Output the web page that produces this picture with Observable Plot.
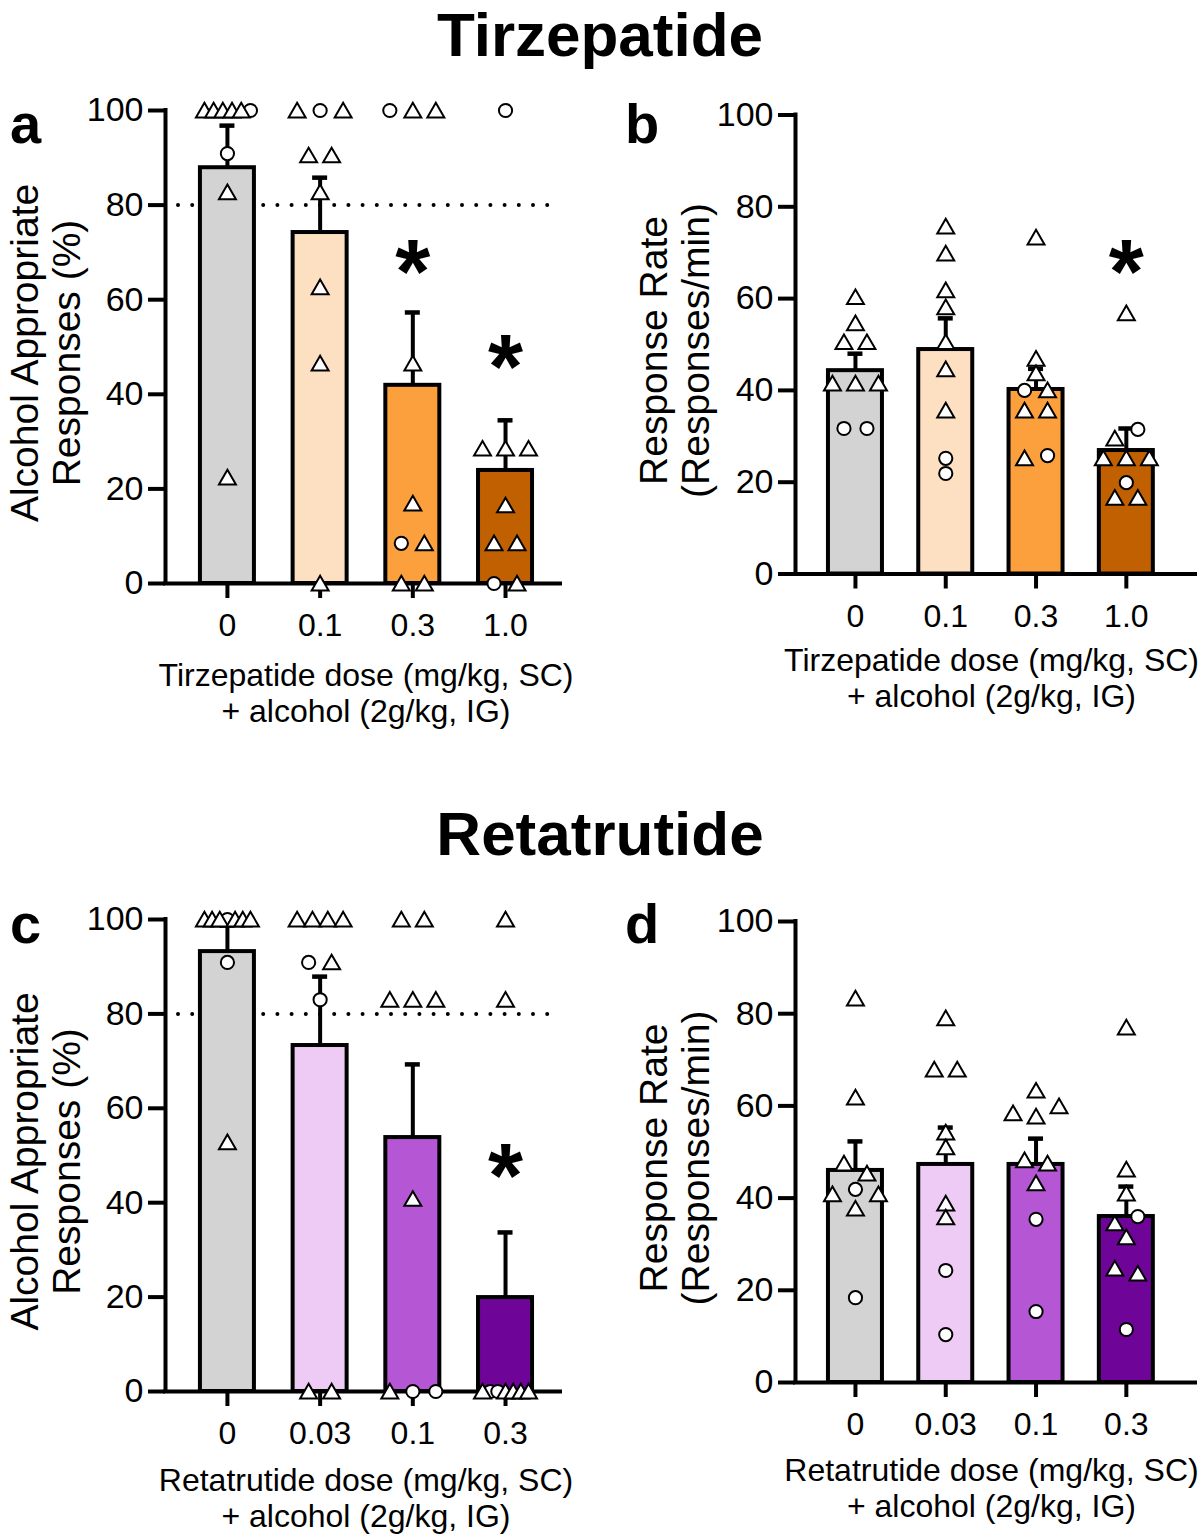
<!DOCTYPE html>
<html>
<head>
<meta charset="utf-8">
<script src="https://cdn.jsdelivr.net/npm/d3@7"></script>
<script src="https://cdn.jsdelivr.net/npm/@observablehq/plot@0.6"></script>
<style>
  body { margin: 0; background: #fff; width: 1200px; height: 1537px; position: relative; overflow: hidden;
         font-family: "Liberation Sans", Arial, sans-serif; color: #000; }
  .title { position: absolute; left: 0; width: 1200px; text-align: center; font-weight: bold; font-size: 62px; line-height: 70px; z-index: 2; }
  .letter { position: absolute; font-weight: bold; font-size: 56px; line-height: 56px; z-index: 2; }
  .panel { position: absolute; z-index: 1; }
</style>
</head>
<body>
<div class="title" style="top:0px">Tirzepatide</div>
<div class="title" style="top:799px">Retatrutide</div>
<div class="letter" style="left:10px;top:96px">a</div>
<div class="letter" style="left:625px;top:96px">b</div>
<div class="letter" style="left:10px;top:896px">c</div>
<div class="letter" style="left:625px;top:896px">d</div>
<div class="panel" id="pa" style="left:0;top:90px"></div>
<div class="panel" id="pb" style="left:600px;top:90px"></div>
<div class="panel" id="pc" style="left:0;top:890px"></div>
<div class="panel" id="pd" style="left:600px;top:890px"></div>
<script>
// Doses and bar colours
const tirzDoses = ["0", "0.1", "0.3", "1.0"];
const retaDoses = ["0", "0.03", "0.1", "0.3"];
const tirzColors = ["#d3d3d3", "#fde0c2", "#fca03e", "#c06000"];
const retaColors = ["#d3d3d3", "#eecbf5", "#b556d4", "#6e0598"];

// (a) Tirzepatide: alcohol-appropriate responses (%)
const aMean = [87.9, 74.2, 41.9, 23.9];
const aSem = [8.9, 11.6, 15.4, 10.6];
const aValues = [
  [100, 100, 100, 100, 100, 100, 90.9, 82.7, 22.4],
  [100, 100, 100, 90.5, 90.5, 82.7, 62.6, 46.5, 0],
  [100, 100, 100, 46.5, 16.9, 8.5, 8.5, 0, 0],
  [100, 28.5, 28.5, 28.5, 16.5, 8.5, 8.5, 0, 0]
];
const aShapes = ["tttttcctt", "tcttttttt", "cttttcttt", "cttttttct"];
const aStars = [null, null, 68.7, 48.6];

// (b) Tirzepatide: response rate (responses/min)
const bMean = [44.3, 48.9, 40.2, 26.9];
const bSem = [3.7, 6.8, 4.5, 4.8];
const bValues = [
  [60.3, 54.6, 50.5, 50.5, 41.5, 41.5, 41.5, 31.7, 31.7],
  [75.7, 69.8, 61.8, 58.1, 50.5, 44.6, 35.6, 25.2, 21.9],
  [73.3, 46.9, 43.7, 40.0, 40.0, 35.6, 35.6, 25.2, 25.8],
  [56.8, 29.5, 31.5, 25.2, 25.2, 25.2, 19.9, 16.6, 16.6]
];
const bShapes = ["tttttttcc", "tttttttcc", "tttcttttc", "ttctttctt"];
const bStars = [null, null, null, 68.7];

// (c) Retatrutide: alcohol-appropriate responses (%)
const cMean = [93.2, 73.3, 53.8, 19.9];
const cSem = [5.5, 14.6, 15.5, 13.8];
const cValues = [
  [100, 100, 100, 100, 100, 100, 100, 90.9, 52.8],
  [100, 100, 100, 100, 90.9, 90.9, 83.0, 0, 0],
  [100, 100, 83, 83, 83, 40.8, 0, 0, 0],
  [100, 83, 0, 0, 0, 0, 0, 0, 0]
];
const cShapes = ["tttctttct", "ttttctctt", "tttttttcc", "tttcctttt"];
const cStars = [null, null, null, 48.5];

// (d) Retatrutide: response rate (responses/min)
const dMean = [46.0, 47.3, 47.3, 36.0];
const dSem = [6.3, 8.0, 5.6, 6.5];
const dValues = [
  [83.3, 61.8, 47.5, 45.3, 40.8, 41.9, 40.8, 37.7, 18.4],
  [79.0, 67.9, 67.9, 54.2, 51.0, 38.8, 35.8, 24.3, 10.4],
  [63.3, 58.4, 57.7, 59.9, 48.2, 47.5, 43.2, 35.4, 15.4],
  [77.0, 46.2, 41.0, 34.5, 36.0, 31.5, 24.7, 23.6, 11.5]
];
const dShapes = ["tttttcttc", "tttttttcc", "tttttttcc", "ttttctttc"];
const dStars = [null, null, null, null];

const yTicks = [0, 20, 40, 60, 80, 100];
const FONT = '"Liberation Sans", Arial, sans-serif';

// Horizontal spreading of individual animals: values within ROW_GAP pixels
// share a row and are fanned out symmetrically about the bar centre.
const ROW_GAP = 12, SPACING = 23, MAX_SPAN = 46;
function spread(values, shapes, pxPerUnit) {
  const pts = values.map((v, k) => ({v, shape: shapes[k], k}));
  const sorted = pts.slice().sort((p, q) => q.v - p.v || p.k - q.k);
  const rows = [];
  for (const p of sorted) {
    const row = rows[rows.length - 1];
    if (row && (row[0].v - p.v) * pxPerUnit < ROW_GAP) row.push(p); else rows.push([p]);
  }
  for (const row of rows) {
    row.sort((p, q) => p.k - q.k);
    const n = row.length;
    const s = n > 1 ? Math.min(SPACING, MAX_SPAN / (n - 1)) : 0;
    row.forEach((p, j) => (p.off = (j - (n - 1) / 2) * s));
  }
  return pts;
}

function panel(cfg) {
  const {doses, colors, mean, sem, values, shapes, stars, xDomain, width, height,
         marginLeft, marginRight, marginTop, marginBottom, yLabel, yLabelDx, xLabel, xLabelDy, xLabelDx, criterion} = cfg;
  const frameW = width - marginLeft - marginRight;
  const frameH = height - marginTop - marginBottom;
  const stepPx = frameW / (xDomain[1] - xDomain[0]);
  const pxPerUnit = frameH / 100;
  const half = 27 / stepPx, cap = 7.5 / stepPx;

  const bars = doses.map((d, i) => ({i, mean: mean[i], top: mean[i] + sem[i], color: colors[i]}));
  const pts = doses.flatMap((d, i) =>
    spread(values[i], shapes[i], pxPerUnit).map(p => ({...p, x: i + p.off / stepPx})));
  const sig = stars.map((y, i) => ({i, y})).filter(d => d.y != null);

  return Plot.plot({
    width, height, marginLeft, marginRight, marginTop, marginBottom,
    style: {fontFamily: FONT, color: "black", background: "transparent", overflow: "visible"},
    x: {domain: xDomain},
    y: {domain: [0, 100]},
    color: {type: "identity"},
    marks: [
      // 80% criterion line
      criterion ? Plot.ruleY([80], {stroke: "black", strokeWidth: 4, strokeDasharray: "0,14.2",
                                   strokeDashoffset: 1.2, strokeLinecap: "round"}) : null,
      // group means with upper SEM whiskers
      Plot.rect(bars, {x1: d => d.i - half, x2: d => d.i + half, y1: 0, y2: "mean",
                       fill: "color", stroke: "black", strokeWidth: 4}),
      Plot.ruleX(bars, {x: "i", y1: "mean", y2: "top", stroke: "black", strokeWidth: 4}),
      Plot.ruleY(bars, {y: "top", x1: d => d.i - cap, x2: d => d.i + cap, stroke: "black", strokeWidth: 4.5}),
      Plot.axisY({ticks: yTicks, tickSize: 17, tickPadding: 5, strokeWidth: 4, fontSize: 34, label: null}),
      Plot.axisX({ticks: [0, 1, 2, 3], tickFormat: i => doses[i], tickSize: 15, tickPadding: 15,
                  strokeWidth: 4, fontSize: 32, label: null}),
      Plot.ruleX([xDomain[0]], {stroke: "black", strokeWidth: 4, strokeLinecap: "square"}),
      Plot.ruleY([0], {stroke: "black", strokeWidth: 4, strokeLinecap: "square"}),
      // individual animals
      Plot.dot(pts.filter(p => p.shape === "c"), {x: "x", y: "v", symbol: "circle", r: 6.6,
                                                  fill: "white", stroke: "black", strokeWidth: 2}),
      Plot.dot(pts.filter(p => p.shape === "t"), {x: "x", y: "v", symbol: "triangle", r: 6.3, dy: 2,
                                                  fill: "white", stroke: "black", strokeWidth: 2}),
      // significance markers
      Plot.text(sig, {x: "i", y: "y", text: () => "*", fontSize: 90, fontWeight: "bold",
                      lineAnchor: "middle", dy: 16}),
      Plot.text([yLabel], {frameAnchor: "left", rotate: -90, dx: yLabelDx, dy: 6, fontSize: 39,
                           textAnchor: "middle", lineAnchor: "middle", lineHeight: 1.08}),
      Plot.text([xLabel], {frameAnchor: "bottom", dx: xLabelDx, dy: xLabelDy, fontSize: 32,
                           textAnchor: "middle", lineAnchor: "top", lineHeight: 1.12})
    ]
  });
}

const left = {width: 600, xDomain: [-0.668, 3.593], marginLeft: 165, marginRight: 40, xLabelDx: 3, yLabelDx: -120};
const right = {width: 600, xDomain: [-0.664, 3.766], marginLeft: 195, marginRight: 5, xLabelDx: -4, yLabelDx: -121};
const pctLabel = "Alcohol Appropriate\nResponses (%)";
const rateLabel = "Response Rate\n(Responses/min)";
const tirzX = "Tirzepatide dose (mg/kg, SC)\n+ alcohol (2g/kg, IG)";
const retaX = "Retatrutide dose (mg/kg, SC)\n+ alcohol (2g/kg, IG)";

document.getElementById("pa").append(panel({...left, height: 650, marginTop: 20, marginBottom: 157,
  doses: tirzDoses, colors: tirzColors, mean: aMean, sem: aSem, values: aValues, shapes: aShapes,
  stars: aStars, yLabel: pctLabel, xLabel: tirzX, xLabelDy: 77, criterion: true}));
document.getElementById("pb").append(panel({...right, height: 650, marginTop: 24.5, marginBottom: 166.5,
  doses: tirzDoses, colors: tirzColors, mean: bMean, sem: bSem, values: bValues, shapes: bShapes,
  stars: bStars, yLabel: rateLabel, xLabel: tirzX, xLabelDy: 72, criterion: false}));
document.getElementById("pc").append(panel({...left, height: 645, marginTop: 29, marginBottom: 144,
  doses: retaDoses, colors: retaColors, mean: cMean, sem: cSem, values: cValues, shapes: cShapes,
  stars: cStars, yLabel: pctLabel, xLabel: retaX, xLabelDy: 74, criterion: true}));
document.getElementById("pd").append(panel({...right, height: 645, marginTop: 31, marginBottom: 153,
  doses: retaDoses, colors: retaColors, mean: dMean, sem: dSem, values: dValues, shapes: dShapes,
  stars: dStars, yLabel: rateLabel, xLabel: retaX, xLabelDy: 73, criterion: false}));
</script>
</body>
</html>
